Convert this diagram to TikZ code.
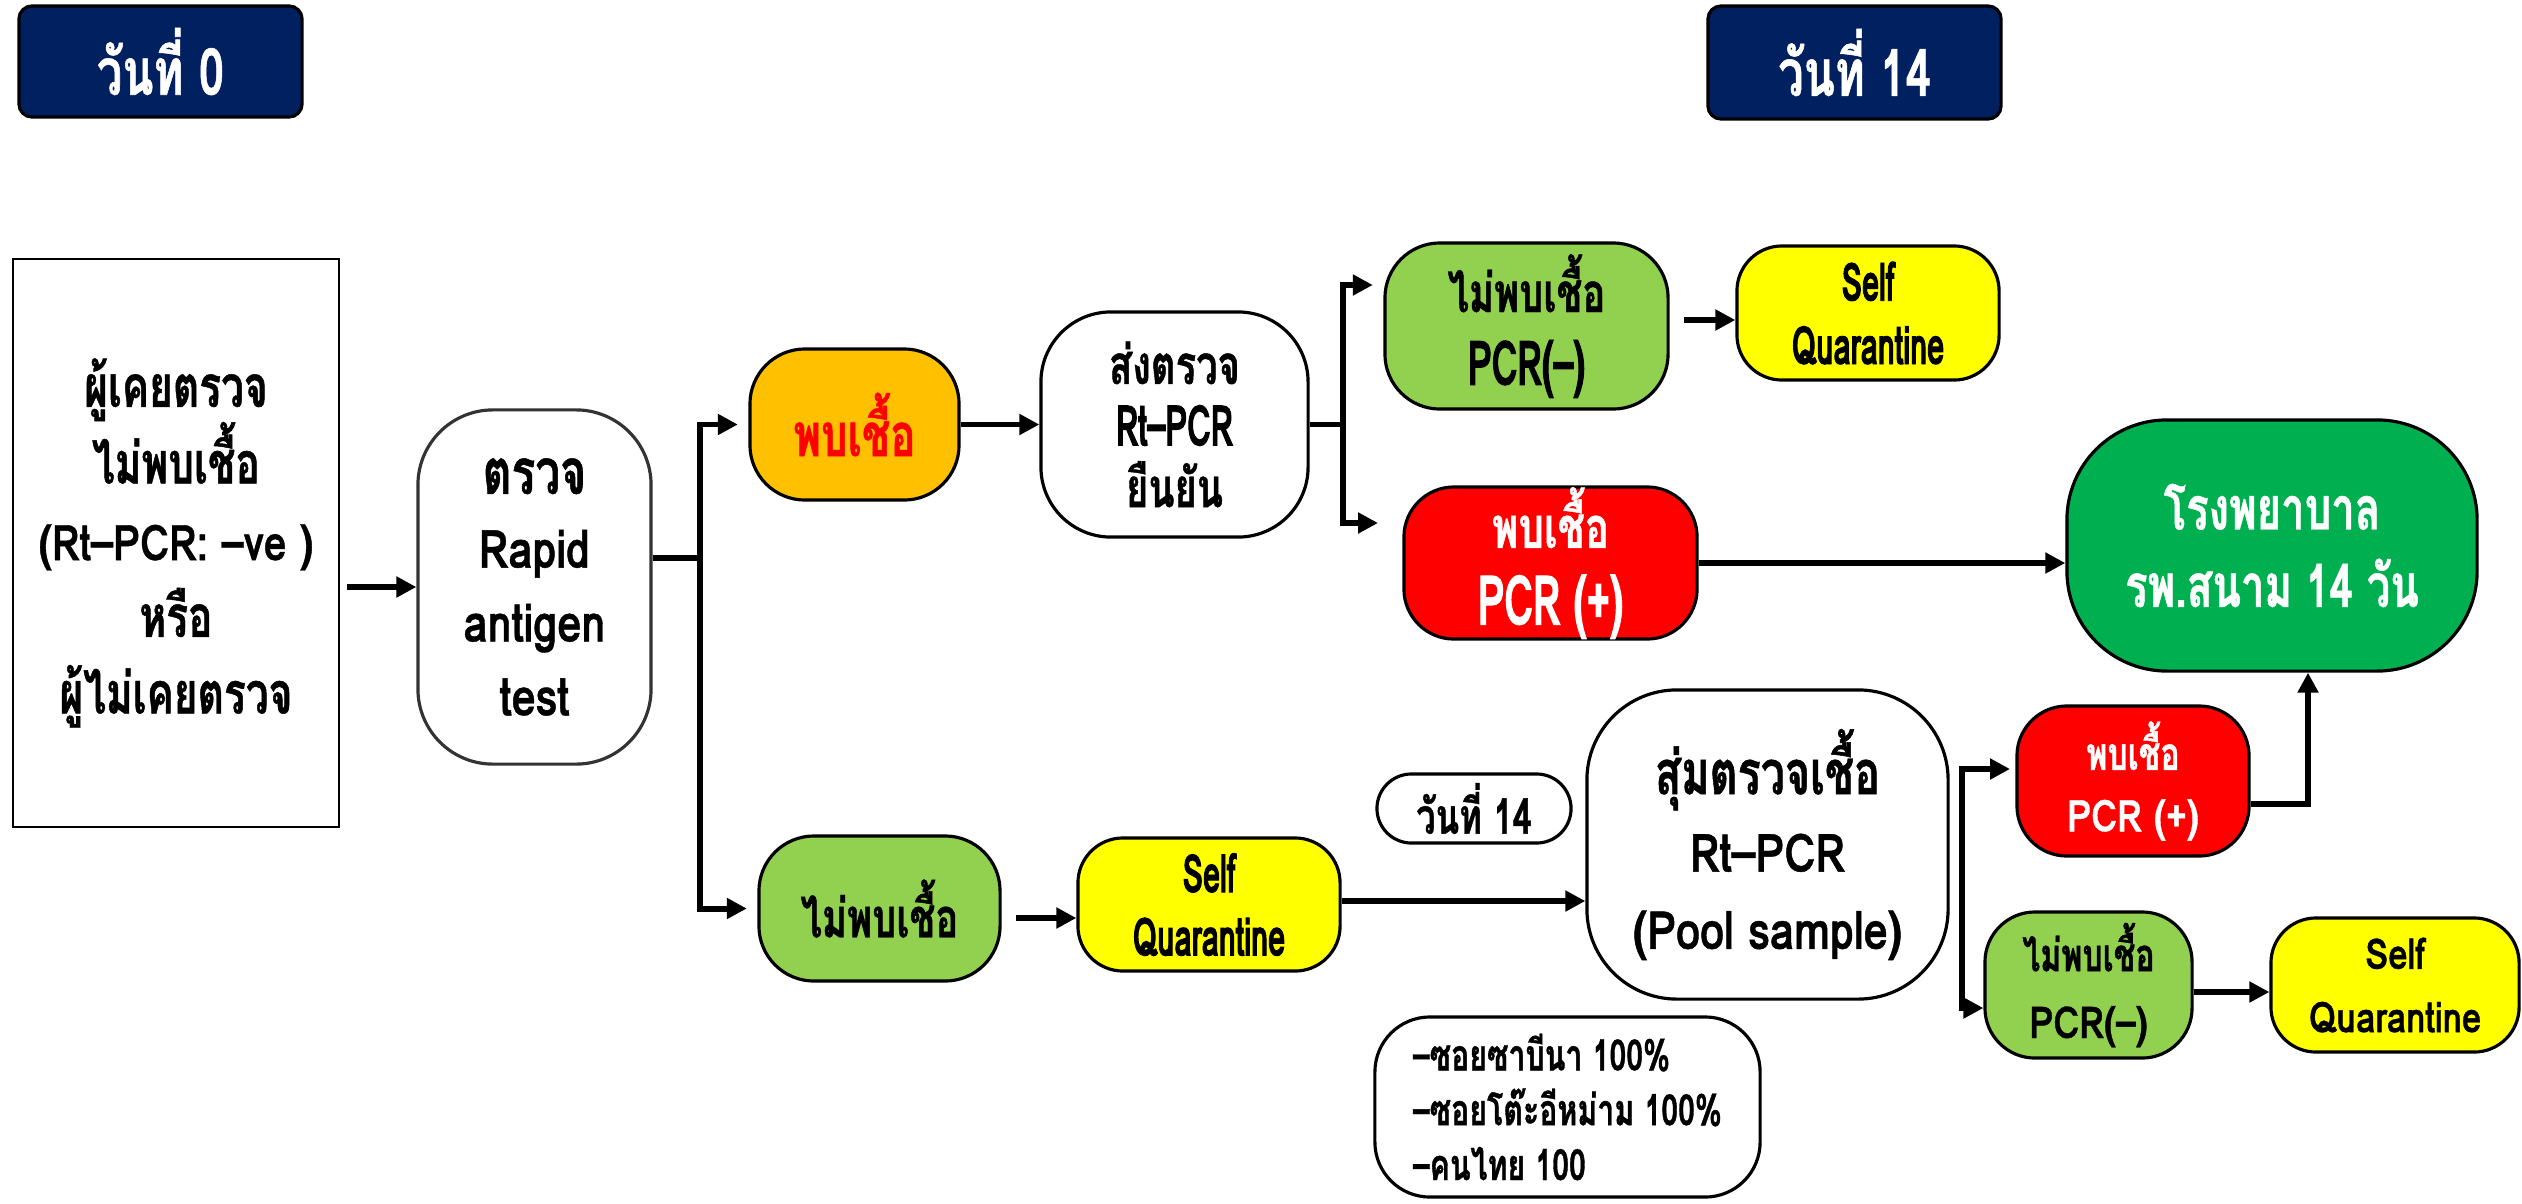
\documentclass[tikz,border=0pt]{standalone}
\usepackage{fontspec}
\setmainfont[Script=Thai]{Loma}
\newfontfamily\thai[Script=Thai,FakeStretch=0.7,BoldFeatures={FakeBold=0.8}]{Loma}
\newfontfamily\latc[FakeStretch=0.58,BoldFeatures={FakeBold=1.6}]{Loma}
\newfontfamily\latm[FakeStretch=0.82,BoldFeatures={FakeBold=0.8}]{Loma}
\usetikzlibrary{arrows.meta}
\definecolor{navy}{HTML}{002060}
\definecolor{orangeb}{HTML}{FFC000}
\definecolor{lgreen}{HTML}{92D050}
\definecolor{yel}{HTML}{FFFF00}
\definecolor{redb}{HTML}{FF0000}
\definecolor{dgreen}{HTML}{00B050}
\newcommand{\fs}[2]{\fontsize{#1}{#2}\selectfont}
\begin{document}
\begin{tikzpicture}[x=0.01cm,y=-0.01cm,
  box/.style={draw=black, line width=0.9pt, align=center, inner sep=0pt, font=\bfseries},
  conn/.style={line width=1.7pt, -{Triangle[length=0.2cm,width=0.2cm]}},
  plain/.style={line width=1.7pt}]
\useasboundingbox (0,0) rectangle (2522,1203);
% headers
\node[box, fill=navy, text=white, rounded corners=0.13cm, minimum width=2.83cm, minimum height=1.11cm, font=\bfseries\thai\fs{18.5}{20}] (hdr0) at (160.5,61.5) {วันที่ 0};
\node[box, fill=navy, text=white, rounded corners=0.13cm, minimum width=2.93cm, minimum height=1.13cm, font=\bfseries\thai\fs{18.5}{20}] (hdr14) at (1854.5,62.5) {วันที่ 14};
% left
\node[box, line width=0.7pt, minimum width=3.26cm, minimum height=5.68cm, font=\bfseries\thai\fs{16.5}{21.8}] (left) at (176,543) {ผู้เคยตรวจ\\ไม่พบเชื้อ\\{\latm\fs{14}{21.8}(Rt–PCR: –ve )}\\หรือ\\ผู้ไม่เคยตรวจ};
\node[box, draw=black!80, rounded corners=0.75cm, minimum width=2.33cm, minimum height=3.54cm, font=\bfseries\latm\fs{15}{21}] (rapid) at (534.5,587) {{\thai\fs{18}{21}ตรวจ}\\Rapid\\antigen\\test};
\node[box, fill=orangeb, text=redb, rounded corners=0.55cm, minimum width=2.09cm, minimum height=1.51cm, font=\bfseries\thai\fs{17}{18}] (found) at (854.5,424.5) {พบเชื้อ};
\node[box, rounded corners=0.7cm, minimum width=2.67cm, minimum height=2.25cm, font=\bfseries\thai\fs{15.5}{17.5}] (send) at (1174.5,424.5) {ส่งตรวจ\\{\latc\fs{16}{17.5}Rt–PCR}\\ยืนยัน};
\node[box, fill=lgreen, rounded corners=0.55cm, minimum width=2.83cm, minimum height=1.66cm, font=\bfseries\thai\fs{15.5}{20.7}] (negtop) at (1526.5,326) {ไม่พบเชื้อ\\{\latc\fs{17.5}{20.7}PCR(–)}};
\node[box, fill=yel, rounded corners=0.45cm, minimum width=2.62cm, minimum height=1.34cm, font=\bfseries\latc\fs{15}{18}] (sq1) at (1868,313) {Self\\Quarantine};
\node[box, fill=redb, text=white, rounded corners=0.5cm, minimum width=2.93cm, minimum height=1.52cm, font=\bfseries\thai\fs{16.3}{21.8}] (postop) at (1550.5,563) {พบเชื้อ\\{\latc\fs{19.5}{21.8}PCR (+)}};
\node[box, fill=dgreen, text=white, rounded corners=1cm, minimum width=4.1cm, minimum height=2.51cm, font=\bfseries\thai\fs{17}{22}] (hosp) at (2272,545.5) {โรงพยาบาล\\รพ.สนาม 14 วัน};
\node[box, fill=lgreen, rounded corners=0.55cm, minimum width=2.41cm, minimum height=1.45cm, font=\bfseries\thai\fs{15.5}{18}] (negbot) at (879.5,908.5) {ไม่พบเชื้อ};
\node[box, fill=yel, rounded corners=0.45cm, minimum width=2.62cm, minimum height=1.33cm, font=\bfseries\latc\fs{15}{18}] (sq2) at (1209,904.5) {Self\\Quarantine};
\node[box, rounded corners=0.345cm, minimum width=1.94cm, minimum height=0.69cm, font=\bfseries\thai\fs{14}{15}] (day14) at (1474,808.5) {วันที่ 14};
\node[box, rounded corners=0.9cm, minimum width=3.61cm, minimum height=3.09cm, font=\bfseries\latm\fs{15}{22}] (random) at (1767.5,844.5) {{\thai\fs{17.5}{22}สุ่มตรวจเชื้อ}\\Rt–PCR\\(Pool sample)};
\node[box, fill=redb, text=white, rounded corners=0.5cm, minimum width=2.32cm, minimum height=1.5cm, font=\bfseries\thai\fs{13}{17.5}] (posbot) at (2133,781) {พบเชื้อ\\{\latm\fs{12.5}{17.5}PCR (+)}};
\node[box, fill=lgreen, rounded corners=0.5cm, minimum width=2.07cm, minimum height=1.46cm, font=\bfseries\thai\fs{13}{19}] (negbot2) at (2088.5,985) {ไม่พบเชื้อ\\{\latm\fs{12.5}{19}PCR(–)}};
\node[box, fill=yel, rounded corners=0.45cm, minimum width=2.48cm, minimum height=1.34cm, font=\bfseries\latm\fs{12}{18}] (sq3) at (2395,985) {Self\\Quarantine};
\node[box, align=left, rounded corners=0.55cm, minimum width=3.85cm, minimum height=1.8cm, font=\bfseries\thai\fs{12.3}{15.6}] (notes) at (1567.5,1107) {–ซอยซาบีนา 100\%\\–ซอยโต๊ะอีหม่าม 100\%\\–คนไทย 100};
% coordinates
\coordinate (s1) at (700,558);
\coordinate (s2) at (1343,424.5);
\coordinate (tipA) at (1378,523);
\coordinate (bt) at (1962,769);
\coordinate (bb) at (1962,1008);
\coordinate (tipB) at (2010,769);
% connectors
\draw[conn, shorten <=2pt] (left.east |- rapid.west) -- (rapid.west);
\draw[plain] (rapid.east |- s1) -- (s1);
\draw[conn, shorten >=3pt] (s1) |- (found.west);
\draw[conn, shorten >=3pt] (s1) |- (negbot.west);
\draw[conn] (found.east) -- (send.west);
\draw[plain] (send.east) -- (s2);
\draw[conn, shorten >=3pt] (s2) |- (negtop.west |- 0,285);
\draw[conn] (s2) |- (tipA);
\draw[conn, shorten <=4pt] (negtop.east |- 0,320) -- (sq1.west |- 0,320);
\draw[conn] (postop.east) -- (hosp.west |- postop.east);
\draw[conn, shorten <=4pt] (negbot.east |- 0,918) -- (sq2.west |- 0,918);
\draw[conn] (sq2.east |- 0,901) -- (random.west |- 0,901);
\draw[conn] (bb) |- (tipB);
\draw[conn] (bt) |- (negbot2.west |- 0,1008);
\draw[conn] (posbot.east |- 0,804) -| (hosp.south -| 2308,0);
\draw[conn] (negbot2.east |- 0,992) -- (sq3.west |- 0,992);
\end{tikzpicture}
\end{document}
